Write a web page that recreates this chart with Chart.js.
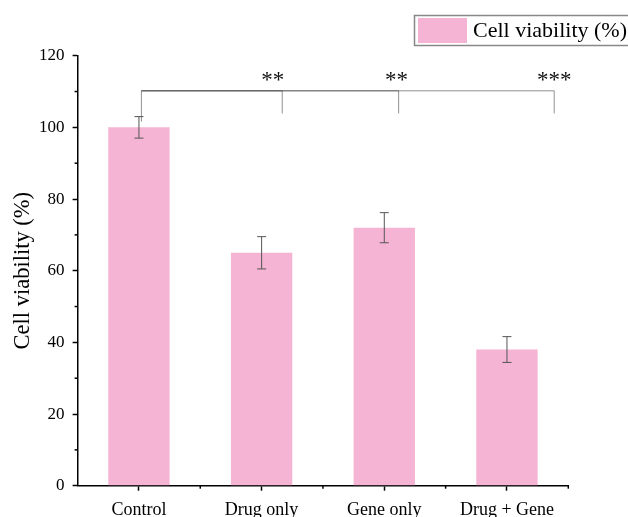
<!DOCTYPE html>
<html>
<head>
<meta charset="utf-8">
<script src="https://cdn.jsdelivr.net/npm/chart.js@4.4.1/dist/chart.umd.min.js"></script>
<style>
  html, body { margin: 0; padding: 0; background: #fff; }
  #wrap { width: 628px; height: 517px; }
</style>
</head>
<body>
<div id="wrap"><canvas id="chart"></canvas></div>
<script>
// valeurs
const categories = ['Control', 'Drug only', 'Gene only', 'Drug + Gene'];
const viability = [100, 65, 72, 38];
const errors = [3, 4.5, 4.2, 3.6];

// crochets de significativité (x en unités de catégorie, y en %)
const bracketTop = 110.2;
const bracketStart = 0.02;
const bracketStartBottom = 101.6;
const bracketEnds = [1.168, 2.117, 3.385];
const bracketEndBottom = 103.9;
const sigLabels = ['**', '**', '***'];
const sigLabelX = [1.09, 2.1, 3.385];
const sigLabelY = 114.6;

const PINK = '#f5b4d3';
const SERIF = '"Liberation Serif", "DejaVu Serif", serif';

const extras = {
    id: 'extras',
    afterDraw(chart) {
        const ctx = chart.ctx;
        const x = chart.scales.x;
        const y = chart.scales.y;
        ctx.save();

        // barres d'erreur
        ctx.strokeStyle = '#555';
        ctx.lineWidth = 1;
        viability.forEach((v, i) => {
            const px = x.getPixelForValue(i);
            const top = y.getPixelForValue(v + errors[i]);
            const bot = y.getPixelForValue(v - errors[i]);
            ctx.beginPath();
            ctx.moveTo(px, top); ctx.lineTo(px, bot);
            ctx.moveTo(px - 4.5, top); ctx.lineTo(px + 4.5, top);
            ctx.moveTo(px - 4.5, bot); ctx.lineTo(px + 4.5, bot);
            ctx.stroke();
        });

        // petites graduations
        ctx.strokeStyle = '#000';
        ctx.lineWidth = 1.5;
        for (let v = 10; v < 120; v += 20) {
            const py = y.getPixelForValue(v);
            ctx.beginPath();
            ctx.moveTo(y.right, py); ctx.lineTo(y.right - 3, py);
            ctx.stroke();
        }
        for (let i = 0; i < categories.length; i++) {
            const px = x.getPixelForValue(i + 0.5);
            ctx.beginPath();
            ctx.moveTo(px, x.top); ctx.lineTo(px, x.top + 3);
            ctx.stroke();
        }

        // crochets
        ctx.strokeStyle = 'rgba(70,70,70,0.6)';
        ctx.lineWidth = 1;
        const yTop = y.getPixelForValue(bracketTop);
        const x0 = x.getPixelForValue(bracketStart);
        ctx.beginPath();
        ctx.moveTo(x0, y.getPixelForValue(bracketStartBottom));
        ctx.lineTo(x0, yTop);
        ctx.stroke();
        bracketEnds.forEach(e => {
            const xe = x.getPixelForValue(e);
            ctx.beginPath();
            ctx.moveTo(x0, yTop);
            ctx.lineTo(xe, yTop);
            ctx.lineTo(xe, y.getPixelForValue(bracketEndBottom));
            ctx.stroke();
        });

        ctx.fillStyle = '#111';
        ctx.font = '23px ' + SERIF;
        ctx.textAlign = 'center';
        ctx.textBaseline = 'middle';
        sigLabels.forEach((s, i) => {
            ctx.fillText(s, x.getPixelForValue(sigLabelX[i]), y.getPixelForValue(sigLabelY) + 6);
        });

        // légende encadrée
        ctx.strokeStyle = '#888';
        ctx.lineWidth = 1.5;
        ctx.strokeRect(414.5, 15.5, 240, 30);
        ctx.fillStyle = PINK;
        ctx.fillRect(418, 18, 49, 25);
        ctx.fillStyle = '#000';
        ctx.font = '22px ' + SERIF;
        ctx.textAlign = 'left';
        ctx.fillText(chart.data.datasets[0].label, 473, 31);

        ctx.restore();
    }
};

new Chart(document.getElementById('chart'), {
    type: 'bar',
    data: {
        labels: categories,
        datasets: [{
            label: 'Cell viability (%)',
            data: viability,
            backgroundColor: PINK,
            borderWidth: 0,
            barPercentage: 0.5,
            categoryPercentage: 1.0,
        }],
    },
    options: {
        responsive: true,
        maintainAspectRatio: false,
        animation: false,
        layout: { padding: { left: 0, top: 55.7, right: 59.7, bottom: 0 } },
        plugins: {
            legend: { display: false },
            tooltip: { enabled: false },
        },
        scales: {
            x: {
                afterFit: s => { s.height = 31.3; },
                grid: {
                    offset: false,
                    drawOnChartArea: false,
                    drawTicks: true,
                    tickLength: 5,
                    tickWidth: 1.5,
                    tickColor: '#000',
                },
                border: { color: '#000', width: 1.5 },
                ticks: {
                    color: '#000',
                    padding: 9,
                    font: { family: SERIF, size: 18 },
                },
            },
            y: {
                min: 0,
                max: 120,
                afterFit: s => { s.width = 77.6; },
                grid: {
                    drawOnChartArea: false,
                    drawTicks: true,
                    tickLength: 5,
                    tickWidth: 1.5,
                    tickColor: '#000',
                },
                border: { color: '#000', width: 1.5 },
                ticks: {
                    stepSize: 20,
                    color: '#000',
                    padding: 8,
                    font: { family: SERIF, size: 17 },
                },
                title: {
                    display: true,
                    text: 'Cell viability (%)',
                    color: '#000',
                    padding: { top: 10, bottom: 0 },
                    font: { family: SERIF, size: 22.5 },
                },
            },
        },
    },
    plugins: [extras],
});
</script>
</body>
</html>
